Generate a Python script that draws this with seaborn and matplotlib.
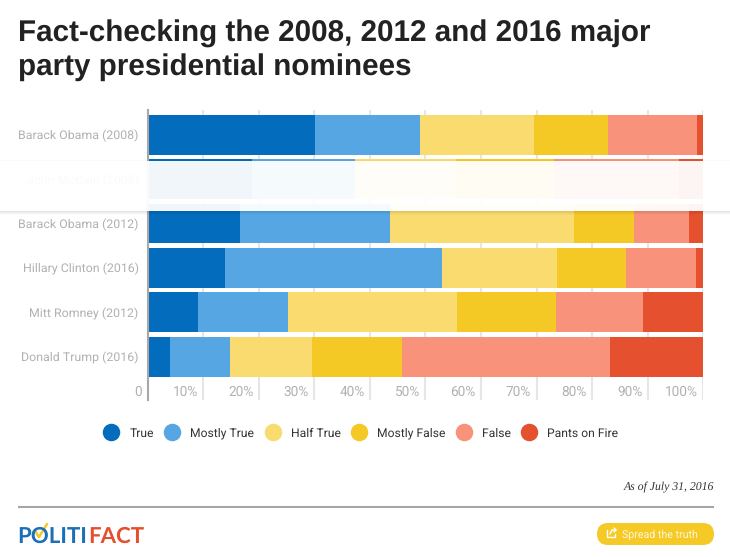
import numpy as np
import pandas as pd
import seaborn as sns
import matplotlib.pyplot as plt
from matplotlib.lines import Line2D
from matplotlib.patches import Rectangle, FancyBboxPatch

nominees = ['Barack Obama (2008)', 'John McCain (2008)', 'Barack Obama (2012)',
            'Hillary Clinton (2016)', 'Mitt Romney (2012)', 'Donald Trump (2016)']
ratings = ['True', 'Mostly True', 'Half True', 'Mostly False', 'False', 'Pants on Fire']
colors = ['#036cbd', '#57a6e4', '#fadb6f', '#f5c925', '#f9927b', '#e5502f']

true_pct = [30.1, 18.8, 16.7, 14.0, 9.0, 4.1]
mostly_true_pct = [18.9, 18.5, 27.0, 38.9, 16.2, 10.7]
half_true_pct = [20.5, 18.2, 33.0, 20.7, 30.4, 14.7]
mostly_false_pct = [13.3, 17.7, 10.8, 12.4, 17.8, 16.3]
false_pct = [16.0, 22.4, 10.0, 12.6, 15.7, 37.4]
fire_pct = [1.2, 4.4, 2.5, 1.4, 10.9, 16.8]

x_ticks = [0, 10, 20, 30, 40, 50, 60, 70, 80, 90, 100]
x_labels = ['0', '10%', '20%', '30%', '40%', '50%', '60%', '70%', '80%', '90%', '100%']

sns.set_theme(style='white')
plt.rcParams['font.family'] = ['Roboto', 'DejaVu Sans']
plt.rcParams['text.hinting'] = 'no_hinting'

#running totals, the longest bar goes down first
shares = np.array([true_pct, mostly_true_pct, half_true_pct, mostly_false_pct, false_pct, fire_pct])
totals = shares.cumsum(axis=0)
rows = []
for i, rating in enumerate(ratings):
    for j, name in enumerate(nominees):
        rows.append({'nominee': name, 'rating': rating, 'total': totals[i, j]})
df = pd.DataFrame(rows)

W, H = 730, 557
fig = plt.figure(figsize=(W / 100, H / 100), dpi=100, facecolor='white')
ax = fig.add_axes([147.7 / W, 1 - 400 / H, 555.6 / W, 290 / H])

sns.barplot(data=df, y='nominee', x='total', hue='rating', order=nominees,
            hue_order=ratings[::-1], palette=dict(zip(ratings, colors)),
            dodge=False, width=0.9, legend=False, saturation=1, linewidth=0, ax=ax, zorder=3)

ax.set_xlim(0, 100)
ax.set_ylim(5.975, -0.556)
ax.set_xlabel('')
ax.set_ylabel('')
ax.set_xticks(x_ticks)
ax.set_xticklabels([])
ax.tick_params(axis='x', length=0)
ax.tick_params(axis='y', length=0, pad=6.5, labelsize=8.95, labelcolor='#b3b0b0')
ax.grid(axis='x', color='#e6e6e6', linewidth=1.5, zorder=1)
ax.grid(axis='y', visible=False)
ax.set_axisbelow(True)
sns.despine(ax=ax, top=True, right=True, bottom=True)
ax.spines['left'].set_color('#a8a8a8')
ax.spines['left'].set_linewidth(1.5)
ax.spines['left'].set_zorder(5)

#x labels sit inside the plot, just left of each grid line
for v, lab in zip(x_ticks, x_labels):
    ax.annotate(lab, xy=(v, 0), xycoords=('data', 'axes fraction'), xytext=(-5.5, 8),
                textcoords='offset pixels', ha='right', va='center',
                fontsize=9.8, color='#b3b0b0', zorder=2)

handles = [Line2D([], [], linestyle='none', marker='o', markersize=11.6, color=c, label=r)
           for c, r in zip(colors, ratings)]
fig.legend(handles=handles, ncol=6, loc='center', bbox_to_anchor=(360 / W, 1 - 433.5 / H),
           frameon=False, fontsize=8.7, labelcolor='#333333', handletextpad=0.7,
           columnspacing=0.72, handlelength=1.6, borderpad=0)

#overlay in pixel coordinates for title, faded tooltip band and footer
top = fig.add_axes([0, 0, 1, 1], facecolor='none')
top.set_xlim(0, W)
top.set_ylim(H, 0)
top.axis('off')

top.text(18, 42, 'Fact-checking the 2008, 2012 and 2016 major', fontsize=21.3, fontweight='bold',
         family='Liberation Sans', color='#222222', va='baseline')
top.text(18, 75, 'party presidential nominees', fontsize=21.3, fontweight='bold',
         family='Liberation Sans', color='#222222', va='baseline')

top.add_patch(Rectangle((0, 161), W, 50, facecolor='white', alpha=0.95, edgecolor='none'))
for k, a in enumerate([0.10, 0.07, 0.04, 0.02]):
    top.add_patch(Rectangle((0, 211 + k), W, 1, facecolor='black', alpha=a, edgecolor='none'))
top.add_patch(Rectangle((0, 160), W, 1, facecolor='black', alpha=0.02, edgecolor='none'))

top.text(714, 487, 'As of July 31, 2016', fontsize=8.5, style='italic', family='Liberation Serif',
         color='#333333', ha='right', va='center')
top.plot([18, 714], [507, 507], color='#a6a6a6', linewidth=1.5, solid_capstyle='butt')

#logo
top.text(17, 543, 'POLITI', fontsize=16, fontweight='bold', family='Lato', color='#1a6fb5', va='baseline')
top.text(88, 543, 'FACT', fontsize=16, fontweight='bold', family='Lato', color='#e4502f', va='baseline')
top.plot([35, 39, 47], [531, 537, 524], color='#f5c925', linewidth=1.8)

#button
top.add_patch(FancyBboxPatch((597, 523), 117, 22, boxstyle='round,pad=0,rounding_size=11',
                             facecolor='#f5c926', edgecolor='none'))
top.text(622, 534.5, 'Spread the truth', fontsize=7.7, color='#fff7d6', va='center')
top.plot([607, 607, 615, 615], [530, 537, 537, 534], color='white', linewidth=1)
top.plot([610, 612, 616], [534, 530, 530], color='white', linewidth=1)
top.plot([614, 616, 614], [528, 530, 532], color='white', linewidth=1)

fig.savefig('out.png', dpi=100)
